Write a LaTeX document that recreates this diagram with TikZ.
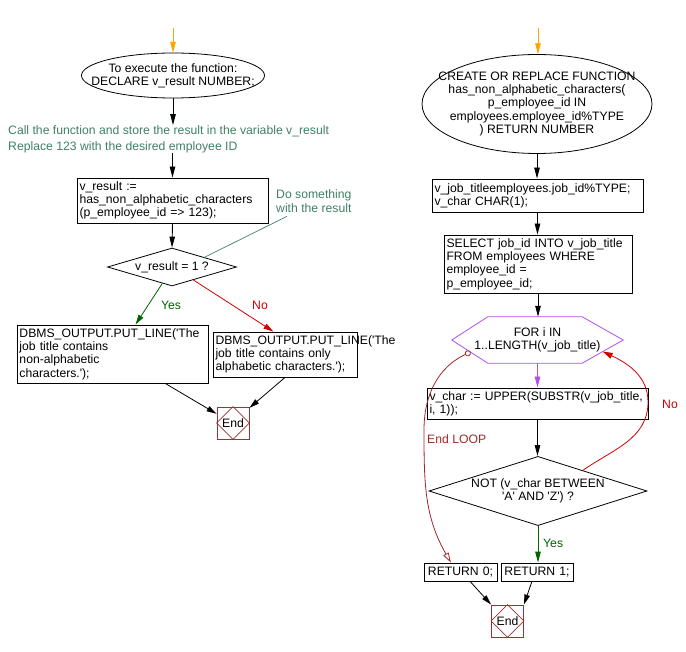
\documentclass[tikz,border=0pt]{standalone}
\usepackage{fontspec}
\setmainfont{Liberation Sans}
\usetikzlibrary{shapes.geometric,arrows.meta,calc}
\definecolor{cmtgreen}{RGB}{64,128,100}
\definecolor{yesgreen}{RGB}{0,100,0}
\definecolor{nored}{RGB}{210,0,0}
\definecolor{loopred}{RGB}{160,40,40}
\definecolor{endc}{RGB}{153,51,51}
\definecolor{hexviolet}{RGB}{176,80,240}
\definecolor{startorange}{RGB}{255,165,0}
\newcommand\onel[1]{\mbox{#1}}
\newcommand\q{\textquotesingle}
\begin{document}
\begin{tikzpicture}[x=1pt,y=-1pt,
  every node/.style={font=\fontsize{12.2}{13.3}\selectfont, inner sep=0pt},
  bx/.style={draw, rectangle, align=left, inner xsep=2.5pt, inner ysep=0pt, line width=0.9pt},
  ellbox/.style={rectangle, align=center, inner sep=0pt},
  dia/.style={draw, diamond, aspect=3, align=center, inner sep=0pt, line width=0.8pt},
  endb/.style={draw=endc, rectangle, minimum width=32pt, minimum height=32pt, inner sep=0pt, line width=0.9pt},
  arr/.style={-{Triangle[length=11pt,width=5.5pt]}, line width=0.9pt},
  sarr/.style={-{Triangle[length=10pt,width=5.5pt]}, line width=0.8pt},
  cmt/.style={text=cmtgreen, align=left},
]
\useasboundingbox (0,0) rectangle (686,652);

% ---------------- left flow ----------------
\coordinate (s1) at (173,28);
\node[ellbox, minimum width=183pt, minimum height=45pt] (ell1) at (173,75.5)
  {To execute the function:\\DECLARE v\_result NUMBER;};
\draw[line width=0.8pt] (ell1.center) ellipse [x radius=91.5pt, y radius=22.5pt];
\node[cmt, anchor=west, font=\fontsize{12.2}{16}\selectfont] (cmt1) at (8,139)
  {Call the function and store the result in the variable v\_result\\Replace 123 with the desired employee ID};
\node[bx, text width=186pt, minimum height=45pt] (box1) at (172.5,200.5)
  {\onel{v\_result :=}\\\onel{has\_non\_alphabetic\_characters}\\\onel{(p\_employee\_id => 123);}};
\node[cmt, anchor=west] (cmt2) at (276,201) {Do something\\with the result};
\node[dia, minimum width=129pt, minimum height=38pt] (d1) at (172,267) {v\_result = 1 ?};
\node[bx, text width=186pt, minimum height=58pt] (boxY) at (112.5,354)
  {\onel{DBMS\_OUTPUT.PUT\_LINE(\q The}\\\onel{job title contains}\\\onel{non-alphabetic}\\\onel{characters.\q);}};
\node[bx, text width=139pt, minimum height=45pt] (boxN) at (285,354.5)
  {\onel{DBMS\_OUTPUT.PUT\_LINE(\q The}\\\onel{job title contains only}\\\onel{alphabetic characters.\q);}};
\node[endb] (end1) at (233,423) {End};
\draw[endc, line width=0.7pt] (end1.north) -- (end1.east) -- (end1.south) -- (end1.west) -- cycle;

\draw[arr, startorange] (s1) -- (ell1.north);
\draw[arr] (ell1.south) -- (ell1.south |- cmt1.north);
\draw[arr] (box1.north |- cmt1.south) -- (box1.north);
\draw[arr] (box1.south) -- (d1.north);
\draw[cmtgreen, line width=0.7pt] ($(cmt2.south west)+(11,4)$) -- (d1.north east);
\draw[sarr, yesgreen] ($(d1.south)!0.15!(d1.west)$) -- ($(boxY.north west)!0.62!(boxY.north east)$);
\node[text=yesgreen] (yes1) at (171,305) {Yes};
\draw[sarr, nored] ($(d1.south)!0.33!(d1.east)$) -- ($(boxN.north west)!0.42!(boxN.north east)$);
\node[text=nored] (no1) at (260,305) {No};
\draw[sarr] ($(boxY.south west)!0.775!(boxY.south east)$) -- ($(end1.north west)!0.22!(end1.south west)$);
\draw[sarr] ($(boxN.south west)!0.50!(boxN.south east)$) -- ($(end1.north east)!0.04!(end1.south east)$);

% ---------------- right flow ----------------
\coordinate (s2) at (538,28);
\node[ellbox, minimum width=230pt, minimum height=99pt] (ell2) at (537,104)
  {CREATE OR REPLACE FUNCTION\\has\_non\_alphabetic\_characters(\\p\_employee\_id IN\\employees.employee\_id\%TYPE\\) RETURN NUMBER};
\draw[line width=0.8pt] (ell2.center) ellipse [x radius=115pt, y radius=49.5pt];
\node[bx, text width=206pt, minimum height=33pt] (boxA) at (537.5,195.5)
  {\onel{v\_job\_titleemployees.job\_id\%TYPE;}\\\onel{v\_char CHAR(1);}};
\node[bx, text width=183pt, minimum height=58pt] (boxB) at (538,264)
  {\onel{SELECT job\_id INTO v\_job\_title}\\\onel{FROM employees WHERE}\\\onel{employee\_id =}\\\onel{p\_employee\_id;}};
\node[minimum width=171pt, minimum height=46pt, align=center] (hex) at (537.5,340)
  {FOR i IN\\1..LENGTH(v\_job\_title)};
\coordinate (hexTL) at ($(hex.north west)+(36,0)$);
\coordinate (hexTR) at ($(hex.north east)+(-41,0)$);
\coordinate (hexBL) at ($(hex.south west)+(36,0)$);
\coordinate (hexBR) at ($(hex.south east)+(-41,0)$);
\draw[hexviolet, line width=0.8pt] (hex.west) -- (hexTL) -- (hexTR) -- (hex.east) -- (hexBR) -- (hexBL) -- cycle;
\node[bx, text width=216pt, minimum height=31pt] (boxC) at (537.5,403.5)
  {\onel{v\_char := UPPER(SUBSTR(v\_job\_title,}\\\onel{i, 1));}};
\node[dia, minimum width=218pt, minimum height=64pt] (d2) at (538,491)
  {NOT (v\_char BETWEEN\\\q A\q\ AND \q Z\q) ?};
\node[bx, text width=68pt, minimum height=18pt, align=center] (ret0) at (460.5,572) {RETURN 0;};
\node[bx, text width=67pt, minimum height=18pt, align=center] (ret1) at (537,572) {RETURN 1;};
\node[endb] (end2) at (507.5,621) {End};
\draw[endc, line width=0.7pt] (end2.north) -- (end2.east) -- (end2.south) -- (end2.west) -- cycle;

\draw[arr, startorange] (s2) -- (s2 |- ell2.north);
\draw[arr] (ell2.south) -- (ell2.south |- boxA.north);
\draw[arr] (boxA.south) -- (boxA.south |- boxB.north);
\draw[arr] (boxB.south) -- (boxB.south |- hex.north);
\draw[arr, hexviolet] (hex.south) -- (hex.south |- boxC.north);
\draw[arr] (boxC.south) -- (boxC.south |- d2.north);
\draw[arr, yesgreen] (d2.south) -- (d2.south |- ret1.north);
\node[text=yesgreen, anchor=west] (yes2) at (543,543) {Yes};
% No loop
\coordinate (noStart) at ($(d2.north)!0.41!(d2.east)$);
\coordinate (noMid) at (648,402);
\coordinate (noEnd) at ($(hexBR)!0.5!(hex.east)$);
\draw[nored, line width=0.8pt, -{Triangle[length=10pt,width=6pt]}] (noStart) to[out=35,in=-90] (noMid) to[out=90,in=-25] (noEnd);
\node[text=nored] (no2) at (670,404) {No};
% End LOOP
\coordinate (elStart) at ($(hex.west)!0.52!(hexBL)$);
\coordinate (elMid) at (424,430);
\coordinate (elEnd) at ($(ret0.north west)!0.37!(ret0.north east)$);
\draw[loopred, line width=0.8pt, {Circle[open,length=6pt]}-{Triangle[open,length=10pt,width=6pt]}] (elStart) to[out=-155,in=90] (elMid) to[out=-90,in=120] (elEnd);
\node[text=loopred, anchor=west] (endloop) at (427,439) {End LOOP};
\draw[sarr] ($(ret0.south west)!0.63!(ret0.south east)$) -- (end2.north west);
\draw[sarr] ($(ret1.south west)!0.43!(ret1.south east)$) -- (end2.north east);
\end{tikzpicture}
\end{document}
